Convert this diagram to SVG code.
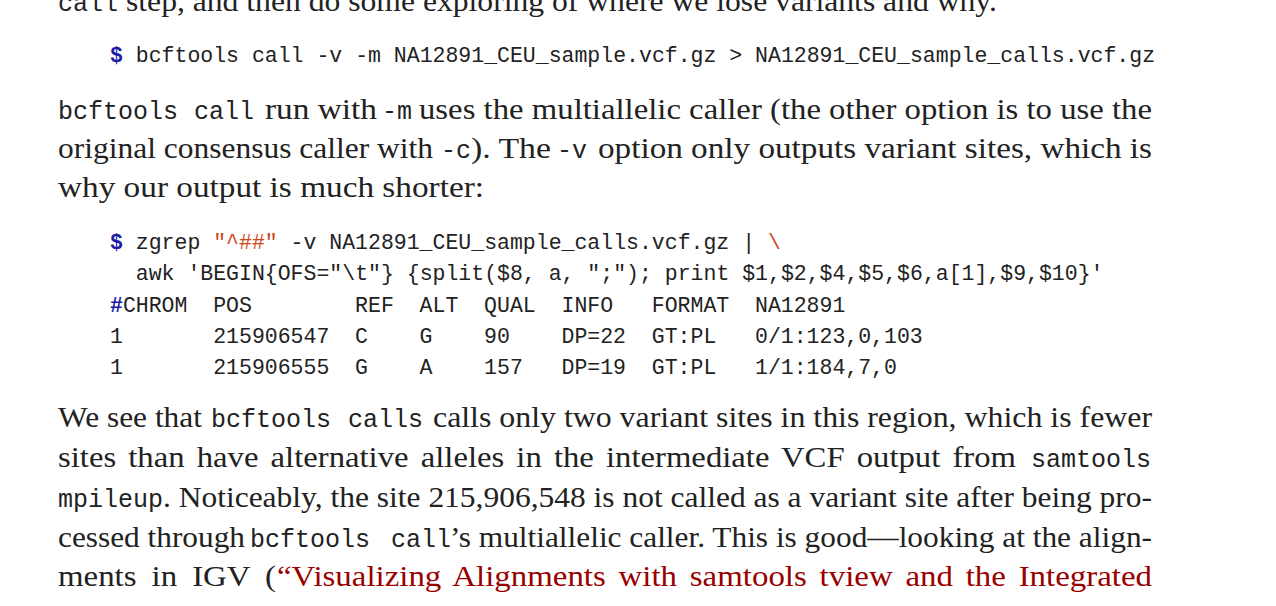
<svg xmlns="http://www.w3.org/2000/svg" width="1276" height="606" viewBox="0 0 1276 606">
<style>
.s{font-family:"Liberation Serif","Times New Roman",serif;font-size:29px;fill:#222}
.m{font-family:"Liberation Mono","DejaVu Sans Mono",monospace;font-size:25px;fill:#222}
.c{font-family:"Liberation Mono","DejaVu Sans Mono",monospace;font-size:21.5px;fill:#222}
.p{fill:#1c1ca8;font-weight:bold}
.o{fill:#d0461a}
.r{fill:#990000}
</style>
<rect width="1276" height="606" fill="#ffffff"/>
<g id="para0">
<text class="m" x="58" y="11">call</text>
<text class="s" x="126" y="11" textLength="871" lengthAdjust="spacingAndGlyphs">step, and then do some exploring of where we lose variants and why.</text>
</g>
<g id="code1">
<text class="c" y="62"><tspan class="p" x="110">$</tspan><tspan x="135.8">bcftools call -v -m NA12891_CEU_sample.vcf.gz &gt; NA12891_CEU_sample_calls.vcf.gz</tspan></text>
</g>
<g id="para1">
<text class="m" x="58" y="119">bcftools</text>
<text class="m" x="194" y="119">call</text>
<text class="s" x="265" y="119" textLength="112" lengthAdjust="spacingAndGlyphs">run with</text>
<text class="m" x="382" y="119">-m</text>
<text class="s" x="419" y="119" textLength="733" lengthAdjust="spacingAndGlyphs">uses the multiallelic caller (the other option is to use the</text>
<text class="s" x="58" y="158" textLength="375" lengthAdjust="spacingAndGlyphs">original consensus caller with</text>
<text class="m" x="441" y="158">-c</text>
<text class="s" x="471" y="158" textLength="80" lengthAdjust="spacingAndGlyphs">). The</text>
<text class="m" x="557" y="158">-v</text>
<text class="s" x="598" y="158" textLength="554" lengthAdjust="spacingAndGlyphs">option only outputs variant sites, which is</text>
<text class="s" x="58" y="197" textLength="426" lengthAdjust="spacingAndGlyphs">why our output is much shorter:</text>
</g>
<g id="code2">
<text class="c" y="249"><tspan class="p" x="110">$</tspan><tspan x="135.8">zgrep</tspan><tspan class="o" x="213.2">"^##"</tspan><tspan x="290.6">-v NA12891_CEU_sample_calls.vcf.gz |</tspan><tspan class="o" x="767.9">\</tspan></text>
<text class="c" x="135.8" y="280">awk 'BEGIN{OFS="\t"} {split($8, a, ";"); print $1,$2,$4,$5,$6,a[1],$9,$10}'</text>
<text class="c" y="312"><tspan class="p" x="110">#</tspan><tspan x="122.9">CHROM</tspan><tspan x="213.2">POS</tspan><tspan x="355.1">REF</tspan><tspan x="419.6">ALT</tspan><tspan x="484.1">QUAL</tspan><tspan x="561.5">INFO</tspan><tspan x="651.8">FORMAT</tspan><tspan x="755">NA12891</tspan></text>
<text class="c" y="343"><tspan x="110">1</tspan><tspan x="213.2">215906547</tspan><tspan x="355.1">C</tspan><tspan x="419.6">G</tspan><tspan x="484.1">90</tspan><tspan x="561.5">DP=22</tspan><tspan x="651.8">GT:PL</tspan><tspan x="755">0/1:123,0,103</tspan></text>
<text class="c" y="374"><tspan x="110">1</tspan><tspan x="213.2">215906555</tspan><tspan x="355.1">G</tspan><tspan x="419.6">A</tspan><tspan x="484.1">157</tspan><tspan x="561.5">DP=19</tspan><tspan x="651.8">GT:PL</tspan><tspan x="755">1/1:184,7,0</tspan></text>
</g>
<g id="para2">
<text class="s" x="58" y="427" textLength="144" lengthAdjust="spacingAndGlyphs">We see that</text>
<text class="m" x="211" y="427">bcftools</text>
<text class="m" x="348" y="427">calls</text>
<text class="s" x="433" y="427" textLength="719" lengthAdjust="spacingAndGlyphs">calls only two variant sites in this region, which is fewer</text>
<text class="s" x="58" y="467" textLength="958" lengthAdjust="spacingAndGlyphs" word-spacing="3.5">sites than have alternative alleles in the intermediate VCF output from</text>
<text class="m" x="1031" y="467">samtools</text>
<text class="m" x="58" y="507">mpileup</text>
<text class="s" x="163" y="507" textLength="989" lengthAdjust="spacingAndGlyphs">. Noticeably, the site 215,906,548 is not called as a variant site after being pro-</text>
<text class="s" x="58" y="547" textLength="187" lengthAdjust="spacingAndGlyphs">cessed through</text>
<text class="m" x="250" y="547">bcftools</text>
<text class="m" x="391" y="547">call</text>
<text class="s" x="450" y="547" textLength="702" lengthAdjust="spacingAndGlyphs">’s multiallelic caller. This is good—looking at the align-</text>
<text class="s" x="58" y="586" textLength="218" lengthAdjust="spacingAndGlyphs" word-spacing="6">ments in IGV (</text>
<text class="s r" x="277" y="586" textLength="875" lengthAdjust="spacingAndGlyphs" word-spacing="4">“Visualizing Alignments with samtools tview and the Integrated</text>
</g>
</svg>
